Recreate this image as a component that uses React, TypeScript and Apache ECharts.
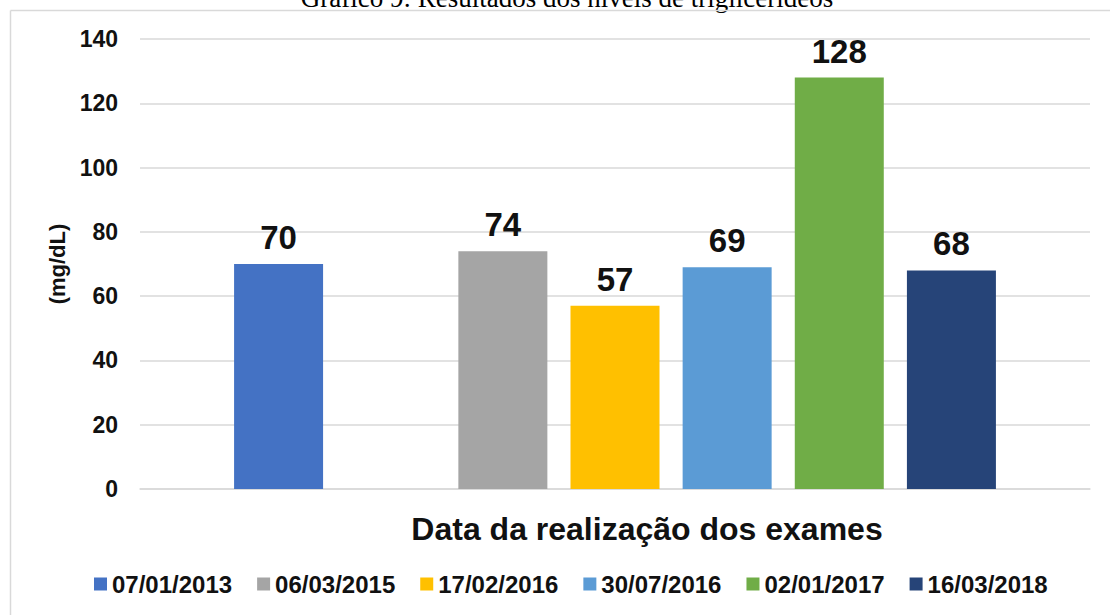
import React, { useEffect, useRef } from "react";
import * as echarts from "echarts";

const categories = ["Triglicerídeos"];
const seriesNames = ["07/01/2013", "", "06/03/2015", "17/02/2016", "30/07/2016", "02/01/2017", "16/03/2018"];
const seriesValues: (number | null)[] = [70, null, 74, 57, 69, 128, 68];
const seriesColors = ["#4472C4", "#FFFFFF", "#A5A5A5", "#FFC000", "#5B9BD5", "#70AD47", "#264478"];
const legendNames = ["07/01/2013", "06/03/2015", "17/02/2016", "30/07/2016", "02/01/2017", "16/03/2018"];
const yTicks = { min: 0, max: 140, interval: 20 };

export default function App() {
  const ref = useRef<HTMLDivElement>(null);
  useEffect(() => {
    if (!ref.current) return;
    const chart = echarts.init(ref.current, undefined, { renderer: "svg" });
    const font = "'Liberation Sans', Arial, sans-serif";
    chart.setOption({
      animation: false,
      backgroundColor: "#ffffff",
      textStyle: { fontFamily: font },
      graphic: [
        {
          type: "text",
          x: 567,
          y: -2,
          style: {
            text: "Gráfico 9: Resultados dos níveis de triglicerídeos",
            font: "27px 'Liberation Serif', 'Times New Roman', serif",
            fill: "#000",
            align: "center",
            verticalAlign: "middle",
          },
        },
        { type: "line", shape: { x1: 10.5, y1: 10.5, x2: 1110, y2: 10.5 }, style: { stroke: "#d9d9d9", lineWidth: 1.5 } },
        { type: "line", shape: { x1: 10.5, y1: 10.5, x2: 10.5, y2: 615 }, style: { stroke: "#d9d9d9", lineWidth: 1.5 } },
        {
          type: "text",
          x: 647,
          y: 529,
          style: {
            text: "Data da realização dos exames",
            font: "bold 32px " + font,
            fill: "#111",
            align: "center",
            verticalAlign: "middle",
          },
        },
      ],
      legend: {
        data: legendNames,
        top: 567,
        left: 89,
        itemWidth: 13,
        itemHeight: 13,
        itemGap: 25,
        icon: "rect",
        textStyle: { fontSize: 24, fontWeight: "bold", color: "#111", fontFamily: font },
      },
      grid: { left: 140, right: 20, top: 39, bottom: 126 },
      xAxis: {
        type: "category",
        data: categories,
        axisLine: { lineStyle: { color: "#d9d9d9", width: 1.5 } },
        axisTick: { show: false },
        axisLabel: { show: false },
      },
      yAxis: {
        type: "value",
        min: yTicks.min,
        max: yTicks.max,
        interval: yTicks.interval,
        name: "(mg/dL)",
        nameLocation: "middle",
        nameGap: 69,
        nameRotate: 90,
        nameTextStyle: { fontSize: 22, fontWeight: "bold", color: "#111", fontFamily: font },
        axisLine: { show: false },
        axisTick: { show: false },
        axisLabel: { fontSize: 23, fontWeight: "bold", color: "#111", margin: 22, fontFamily: font },
        splitLine: { lineStyle: { color: "#d9d9d9", width: 1.5 } },
      },
      series: seriesNames.map((name, i) => ({
        name,
        type: "bar",
        data: [seriesValues[i]],
        barWidth: 89,
        barGap: "26%",
        itemStyle: { color: seriesColors[i] },
        label: {
          show: seriesValues[i] !== null,
          position: "top",
          distance: 10,
          fontSize: 33,
          fontWeight: "bold",
          color: "#111",
          fontFamily: font,
        },
      })),
    });
    return () => chart.dispose();
  }, []);
  return <div ref={ref} style={{ position: "fixed", left: 0, top: 0, width: 1110, height: 615 }} />;
}
